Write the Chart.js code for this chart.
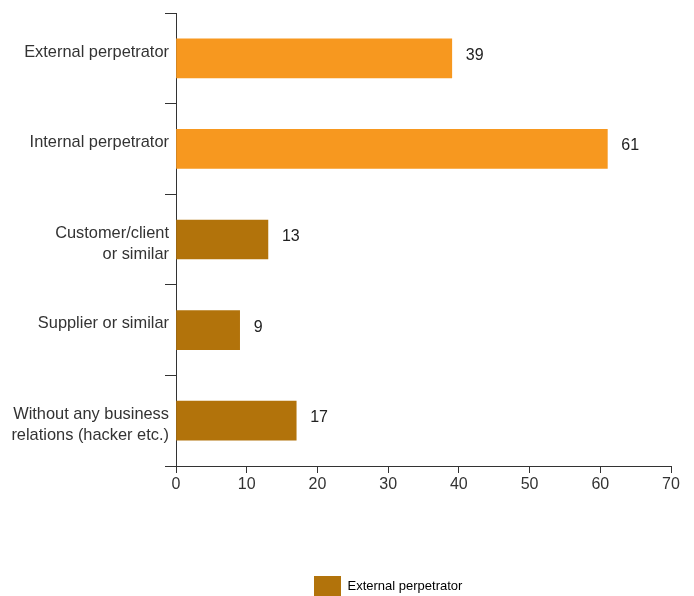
<!DOCTYPE html>
<html>
<head>
<meta charset="utf-8">
<script src="https://cdn.jsdelivr.net/npm/chart.js@4/dist/chart.umd.min.js"></script>
<style>
  html, body { margin: 0; padding: 0; background: #fff; }
  #wrap { width: 694px; height: 596px; }
</style>
</head>
<body>
<div id="wrap"><canvas id="myChart" width="694" height="596"></canvas></div>
<script>
// perpetrators, share in percent
// (one-line names get an empty second line so they sit a little high)
var categories = [
    ['External perpetrator', ''],
    ['Internal perpetrator', ''],
    ['Customer/client', 'or similar'],
    ['Supplier or similar', ''],
    ['Without any business', 'relations (hacker etc.)']
];
var values = [39, 61, 13, 9, 17];
var xTicks = [0, 10, 20, 30, 40, 50, 60, 70];
var legendLabel = 'External perpetrator';

var orange = '#F7981F';
var brown = '#B2730B';
var ink = '#333333';
var fontFamily = '"Liberation Sans", Arial, Helvetica, sans-serif';

// first two bars are the totals, the rest is the breakdown
var barColors = values.map(function (v, i) { return i < 2 ? orange : brown; });

// numbers printed next to each bar
var valueLabels = {
    id: 'valueLabels',
    afterDatasetsDraw: function (chart) {
        var ctx = chart.ctx;
        var meta = chart.getDatasetMeta(0);
        ctx.save();
        ctx.font = '16px ' + fontFamily;
        ctx.fillStyle = '#222';
        ctx.textAlign = 'left';
        ctx.textBaseline = 'middle';
        meta.data.forEach(function (bar, i) {
            ctx.fillText(String(values[i]), bar.x + 14, bar.y - 3);
        });
        ctx.restore();
    }
};

// legend sits a bit right of centre, flush with the bottom edge
var legendShift = {
    id: 'legendShift',
    afterLayout: function (chart) {
        if (chart.legend) {
            chart.legend.left = 314;
            chart.legend.top = 576;
        }
    }
};

var ctx = document.getElementById('myChart').getContext('2d');
var chart = new Chart(ctx, {
    type: 'bar',
    data: {
        labels: categories,
        datasets: [{
            label: legendLabel,
            data: values,
            backgroundColor: barColors,
            borderWidth: 0,
            barThickness: 39
        }]
    },
    options: {
        indexAxis: 'y',
        responsive: false,
        animation: false,
        layout: { padding: { top: 13, right: 23, left: 0, bottom: 0 } },
        scales: {
            x: {
                min: 0,
                max: 70,
                afterBuildTicks: function (scale) {
                    scale.ticks = xTicks.map(function (v) { return { value: v }; });
                },
                afterFit: function (scale) { scale.height = 100; },
                grid: {
                    drawOnChartArea: false,
                    drawTicks: true,
                    tickLength: 7,
                    color: ink
                },
                border: { display: true, color: ink, width: 1 },
                ticks: {
                    padding: 2,
                    color: ink,
                    font: { family: fontFamily, size: 16 }
                }
            },
            y: {
                afterFit: function (scale) {
                    // labels sit between the ticks, no extra room needed above/below
                    scale.width = 176;
                    scale.paddingTop = 0;
                    scale.paddingBottom = 0;
                },
                grid: {
                    offset: true,
                    drawOnChartArea: false,
                    drawTicks: true,
                    tickLength: 11,
                    color: ink
                },
                border: { display: true, color: ink, width: 1 },
                ticks: {
                    padding: -4,
                    labelOffset: 4.5,
                    color: ink,
                    font: { family: fontFamily, size: 16.4, lineHeight: 1.3 }
                }
            }
        },
        plugins: {
            tooltip: { enabled: false },
            legend: {
                position: 'bottom',
                align: 'start',
                labels: {
                    boxWidth: 27,
                    boxHeight: 20,
                    padding: 0,
                    color: ink,
                    font: { family: fontFamily, size: 13 },
                    generateLabels: function () {
                        return [{
                            text: legendLabel,
                            fillStyle: brown,
                            strokeStyle: brown,
                            lineWidth: 0,
                            hidden: false,
                            datasetIndex: 0
                        }];
                    }
                }
            }
        }
    },
    plugins: [valueLabels, legendShift]
});
</script>
</body>
</html>
